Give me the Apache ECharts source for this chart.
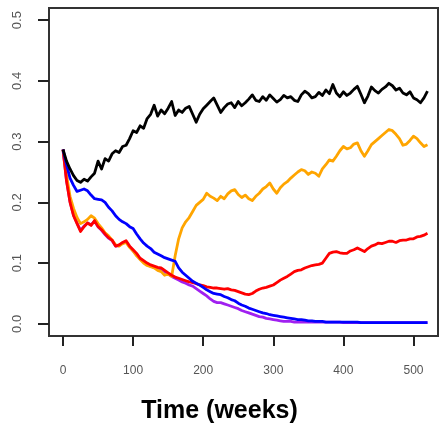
<!DOCTYPE html>
<html>
<head>
<meta charset="utf-8">
<script src="https://cdn.jsdelivr.net/npm/echarts@6/dist/echarts.min.js"></script>
<style>
html,body{margin:0;padding:0;background:#fff;}
#chart{width:439px;height:427px;}
</style>
</head>
<body>
<div id="chart"></div>
<script>
const weeks = [
0,5,10,15,20,25,30,35,40,45,
50,55,60,65,70,75,80,85,90,95,
100,105,110,115,120,125,130,135,140,145,
150,155,160,165,170,175,180,185,190,195,
200,205,210,215,220,225,230,235,240,245,
250,255,260,265,270,275,280,285,290,295,
300,305,310,315,320,325,330,335,340,345,
350,355,360,365,370,375,380,385,390,395,
400,405,410,415,420,425,430,435,440,445,
450,455,460,465,470,475,480,485,490,495,
500,505,510,515,520];

const blackVals = [
0.287,0.268,0.255,0.244,0.236,0.233,0.238,0.235,0.242,0.248,
0.268,0.255,0.272,0.268,0.280,0.285,0.282,0.292,0.294,0.305,
0.318,0.315,0.326,0.322,0.338,0.345,0.360,0.342,0.352,0.346,
0.355,0.366,0.343,0.352,0.348,0.355,0.358,0.345,0.332,0.345,
0.354,0.360,0.366,0.372,0.360,0.348,0.356,0.362,0.364,0.356,
0.366,0.359,0.364,0.370,0.377,0.368,0.366,0.374,0.368,0.377,
0.371,0.365,0.369,0.376,0.372,0.374,0.368,0.366,0.377,0.383,
0.379,0.372,0.374,0.381,0.376,0.385,0.379,0.394,0.380,0.374,
0.382,0.376,0.380,0.386,0.391,0.378,0.364,0.375,0.390,0.384,
0.380,0.386,0.390,0.396,0.392,0.385,0.388,0.380,0.377,0.382,
0.372,0.369,0.364,0.372,0.383];

const orangeVals = [
0.287,0.245,0.210,0.190,0.175,0.165,0.168,0.172,0.178,0.174,
0.165,0.158,0.150,0.145,0.138,0.130,0.128,0.132,0.134,0.126,
0.120,0.112,0.106,0.100,0.096,0.094,0.092,0.088,0.086,0.080,
0.082,0.078,0.112,0.140,0.158,0.168,0.175,0.185,0.195,0.200,
0.205,0.215,0.210,0.207,0.203,0.210,0.206,0.214,0.219,0.221,
0.213,0.208,0.212,0.206,0.203,0.210,0.215,0.222,0.226,0.232,
0.222,0.215,0.224,0.230,0.234,0.240,0.245,0.250,0.254,0.252,
0.246,0.250,0.248,0.243,0.255,0.262,0.270,0.268,0.276,0.285,
0.292,0.288,0.290,0.296,0.298,0.285,0.276,0.285,0.295,0.300,
0.305,0.310,0.315,0.320,0.318,0.312,0.305,0.294,0.296,0.302,
0.309,0.305,0.298,0.292,0.295];

const redVals = [
0.287,0.235,0.200,0.178,0.165,0.152,0.160,0.166,0.162,0.170,
0.160,0.155,0.148,0.142,0.138,0.128,0.130,0.134,0.137,0.128,
0.122,0.116,0.108,0.104,0.100,0.097,0.095,0.093,0.092,0.088,
0.084,0.080,0.077,0.075,0.073,0.071,0.069,0.068,0.066,0.064,
0.063,0.061,0.060,0.059,0.059,0.058,0.057,0.058,0.056,0.055,
0.053,0.051,0.049,0.048,0.050,0.054,0.057,0.059,0.060,0.062,
0.064,0.068,0.072,0.075,0.078,0.082,0.086,0.088,0.089,0.092,
0.094,0.096,0.097,0.098,0.100,0.108,0.116,0.118,0.119,0.117,
0.116,0.116,0.120,0.122,0.125,0.122,0.119,0.124,0.128,0.130,
0.133,0.132,0.134,0.136,0.136,0.134,0.137,0.138,0.138,0.140,
0.140,0.143,0.144,0.146,0.149];

const blueVals = [
0.287,0.262,0.240,0.228,0.218,0.220,0.222,0.219,0.212,0.206,
0.205,0.204,0.200,0.192,0.186,0.178,0.172,0.168,0.165,0.160,
0.157,0.148,0.140,0.133,0.128,0.124,0.118,0.115,0.112,0.109,
0.107,0.105,0.103,0.092,0.085,0.080,0.075,0.070,0.067,0.064,
0.060,0.056,0.053,0.050,0.049,0.048,0.045,0.043,0.040,0.038,
0.034,0.031,0.029,0.026,0.024,0.022,0.020,0.018,0.017,0.015,
0.014,0.013,0.012,0.011,0.010,0.009,0.008,0.007,0.007,0.006,
0.005,0.005,0.004,0.004,0.004,0.003,0.003,0.003,0.003,0.003,
0.003,0.003,0.003,0.003,0.003,0.002,0.002,0.002,0.002,0.002,
0.002,0.002,0.002,0.002,0.002,0.002,0.002,0.002,0.002,0.002,
0.002,0.002,0.002,0.002,0.002];

const purpleVals = [
0.287,0.236,0.201,0.179,0.166,0.154,0.161,0.166,0.163,0.169,
0.160,0.154,0.147,0.141,0.137,0.128,0.129,0.133,0.135,0.127,
0.120,0.114,0.107,0.102,0.098,0.095,0.093,0.091,0.089,0.086,
0.082,0.078,0.075,0.072,0.069,0.067,0.064,0.062,0.058,0.054,
0.050,0.046,0.041,0.037,0.035,0.035,0.033,0.031,0.029,0.027,
0.025,0.022,0.020,0.018,0.016,0.014,0.012,0.011,0.009,0.008,
0.007,0.006,0.005,0.004,0.004,0.004,0.003,0.003,0.003,0.003,
0.003,0.003,0.003,0.003,0.003,0.003,0.003,0.003,0.003,0.003,
0.002,0.002,0.002,0.002,0.002,0.002,0.002,0.002,0.002,0.002,
0.002,0.002,0.002,0.002,0.002,0.002,0.002,0.002,0.002,0.002,
0.002,0.002,0.002,0.002,0.002];

const xTicks = [0,100,200,300,400,500];
const yTicks = [0,0.1,0.2,0.3,0.4,0.5];
const xTitle = 'Time (weeks)';

function pairs(vals){ return weeks.map((w,i)=>[w, vals[i]]); }

const chart = echarts.init(document.getElementById('chart'), null, {renderer:'canvas'});
const lineSeries = (name, color, vals) => ({
  name, type:'line', data:pairs(vals), showSymbol:false, symbol:'none',
  lineStyle:{color, width:2.8, join:'round'}, itemStyle:{color},
  animation:false, silent:true, z:2
});

chart.setOption({
  backgroundColor:'#fff',
  animation:false,
  grid:{left:49, top:8, width:389, height:328, show:true, borderColor:'#333', borderWidth:2, backgroundColor:'transparent'},
  xAxis:{
    type:'value', min:-20, max:535,
    axisLine:{show:false, onZero:false},
    splitLine:{show:false},
    axisTick:{show:true, inside:false, length:10, customValues:xTicks, lineStyle:{color:'#222', width:2}},
    axisLabel:{customValues:xTicks, margin:29, color:'#555', fontSize:12, fontFamily:'Liberation Sans, Arial, sans-serif'}
  },
  yAxis:{
    type:'value', min:-0.02, max:0.52,
    axisLine:{show:false, onZero:false},
    splitLine:{show:false},
    axisTick:{show:true, inside:false, length:11, customValues:yTicks, lineStyle:{color:'#222', width:2}},
    axisLabel:{customValues:yTicks, rotate:90, margin:25, color:'#555', fontSize:13,
      fontFamily:'Liberation Sans, Arial, sans-serif',
      formatter:(v)=>v.toFixed(1)}
  },
  graphic:[{
    type:'text', left:'center', top:399,
    style:{text:xTitle, font:'bold 25px "Liberation Sans", Arial, sans-serif', fill:'#000', x:12}
  }],
  series:[
    lineSeries('purple','#A020F0',purpleVals),
    lineSeries('orange','#FFA500',orangeVals),
    lineSeries('red','#FF0000',redVals),
    lineSeries('blue','#0000FF',blueVals),
    lineSeries('black','#000000',blackVals)
  ]
});
</script>
</body>
</html>
